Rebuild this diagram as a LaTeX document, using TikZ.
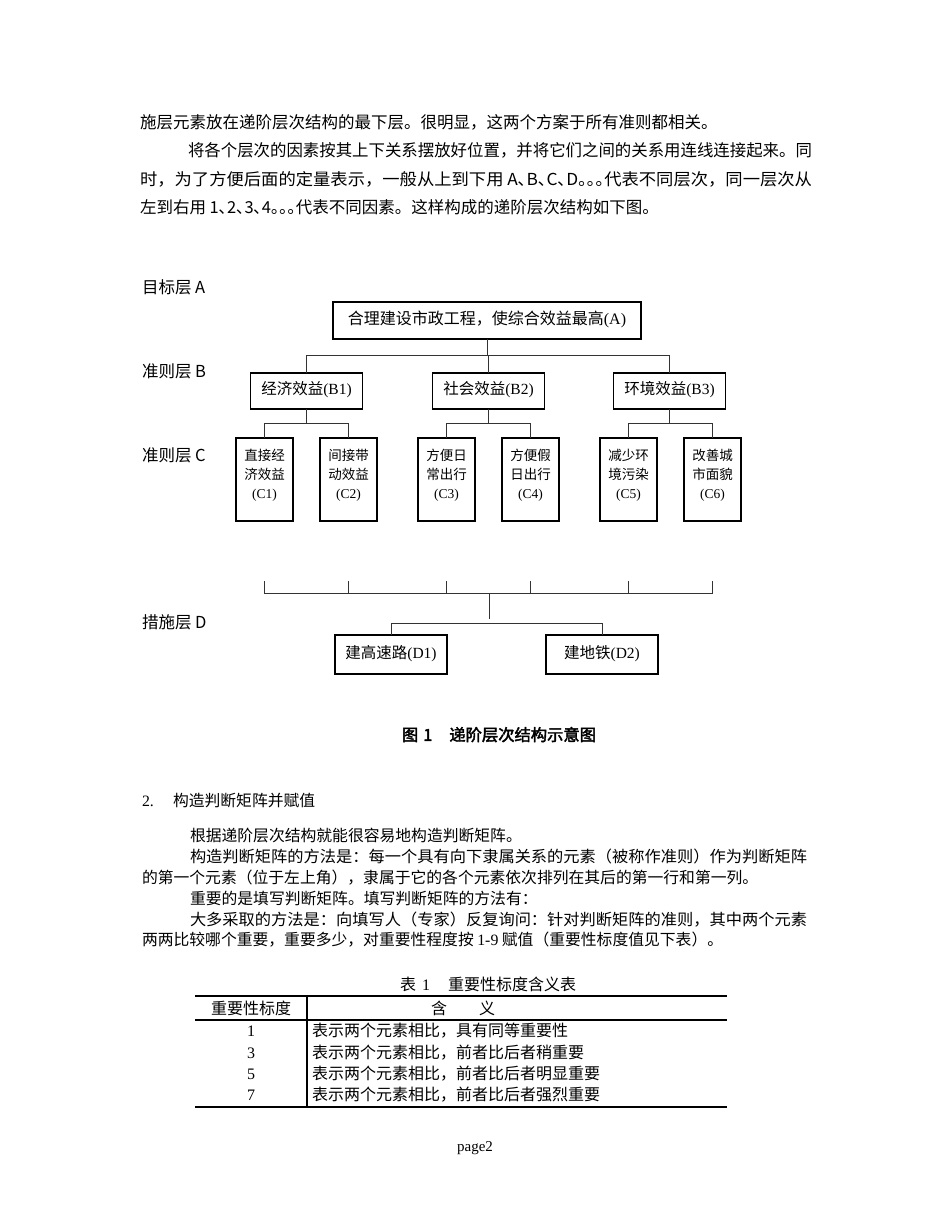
\documentclass[tikz,border=0pt]{standalone}
\usepackage{fontspec}
\usepackage{graphicx}
\setmainfont{Liberation Serif}
\newfontfamily\cjk{Noto Sans CJK SC}[AutoFakeBold=2.5]
\newcommand\zh[1]{{\cjk #1}}
\newcommand\fs[1]{\fontsize{#1}{#1}\selectfont}
\newcommand\jline[2]{\resizebox{#1}{\height}{#2}}
\begin{document}
\begin{tikzpicture}[x=1pt,y=-1pt,
  every node/.style={inner sep=0pt,outer sep=0pt},
  txt/.style={anchor=west,text height=0.88em,text depth=0.12em},
  ctxt/.style={text height=0.88em,text depth=0.12em},
  box/.style={draw=black,line width=1.1pt,fill=white,text height=0.88em,text depth=0.12em},
  cbox/.style={draw=black,line width=1.1pt,fill=white,minimum width=57pt,minimum height=83pt},
  ctext/.style={font=\fontsize{13.5}{19}\selectfont,align=center},
  link/.style={draw=black!80,line width=0.9pt}]

\useasboundingbox[fill=white] (0,0) rectangle (950,1230);

% ---- top paragraph ----
\node[txt,font=\cjk\fs{16.5}] (p1) at (140,125) {施层元素放在递阶层次结构的最下层。很明显，这两个方案于所有准则都相关。};
\node[txt,font=\cjk\fs{16.5}] (p2) at (188,153) {\jline{624pt}{将各个层次的因素按其上下关系摆放好位置，并将它们之间的关系用连线连接起来。同}};
\node[txt,font=\cjk\fs{16.5}] (p3) at (140,182) {\jline{672pt}{时，为了方便后面的定量表示，一般从上到下用 A､B､C､D｡｡｡代表不同层次，同一层次从}};
\node[txt,font=\cjk\fs{16.5}] (p4) at (140,210) {左到右用 1､2､3､4｡｡｡代表不同因素。这样构成的递阶层次结构如下图。};

% ---- level labels ----
\node[txt,font=\cjk\fs{16.5}] (LA) at (142,290) {目标层 A};
\node[txt,font=\cjk\fs{16.5}] (LB) at (142,374) {准则层 B};
\node[txt,font=\cjk\fs{16.5}] (LC) at (142,458) {准则层 C};
\node[txt,font=\cjk\fs{16.5}] (LD) at (142,625) {措施层 D};

% ---- boxes ----
\node[box,minimum width=308pt,minimum height=37pt,font=\fs{16}] (A) at (487,320.5) {\zh{合理建设市政工程，使综合效益最高}(A)};

\node[box,minimum width=112pt,minimum height=36pt,font=\fs{15.5}] (B1) at (306.5,391) {\zh{经济效益}(B1)};
\node[box,minimum width=112pt,minimum height=36pt,font=\fs{15.5}] (B2) at (488.5,391) {\zh{社会效益}(B2)};
\node[box,minimum width=112pt,minimum height=36pt,font=\fs{15.5}] (B3) at (669.5,391) {\zh{环境效益}(B3)};

\node[cbox] (C1) at (264.5,479.5) {};
\node[cbox] (C2) at (348.5,479.5) {};
\node[cbox] (C3) at (446.5,479.5) {};
\node[cbox] (C4) at (530.5,479.5) {};
\node[cbox] (C5) at (628.5,479.5) {};
\node[cbox] (C6) at (712.5,479.5) {};
\node[ctext] (c1t) at (264.5,475) {\zh{直接经}\\\zh{济效益}\\(C1)};
\node[ctext] (c2t) at (348.5,475) {\zh{间接带}\\\zh{动效益}\\(C2)};
\node[ctext] (c3t) at (446.5,475) {\zh{方便日}\\\zh{常出行}\\(C3)};
\node[ctext] (c4t) at (530.5,475) {\zh{方便假}\\\zh{日出行}\\(C4)};
\node[ctext] (c5t) at (628.5,475) {\zh{减少环}\\\zh{境污染}\\(C5)};
\node[ctext] (c6t) at (712.5,475) {\zh{改善城}\\\zh{市面貌}\\(C6)};

\node[box,minimum width=112pt,minimum height=39pt,font=\fs{15.5}] (D1) at (391,654.5) {\zh{建高速路}(D1)};
\node[box,minimum width=112pt,minimum height=39pt,font=\fs{15.5}] (D2) at (602,654.5) {\zh{建地铁}(D2)};

% ---- connectors A -> B ----
\coordinate (a1) at (487,355);
\draw[link] (A.south) -- (a1);
\draw[link] (B1.north) -- (B1.north |- a1) -- (B3.north |- a1) -- (B3.north);
\draw[link] (B2.north) -- (B2.north |- a1);

% ---- connectors B -> C ----
\coordinate (bl) at (0,423);
\draw[link] (B1.south) -- (B1.south |- bl);
\draw[link] (C1.north) -- (C1.north |- bl) -- (C2.north |- bl) -- (C2.north);
\draw[link] (B2.south) -- (B2.south |- bl);
\draw[link] (C3.north) -- (C3.north |- bl) -- (C4.north |- bl) -- (C4.north);
\draw[link] (B3.south) -- (B3.south |- bl);
\draw[link] (C5.north) -- (C5.north |- bl) -- (C6.north |- bl) -- (C6.north);

% ---- lower bracket C -> D ----
\coordinate (tk) at (0,581);
\coordinate (hl) at (489,593);
\coordinate (hb) at (489,619);
\coordinate (dl) at (489,623);
\draw[link] (C1 |- tk) -- (C1 |- hl) -- (C6 |- hl) -- (C6 |- tk);
\draw[link] (C2 |- tk) -- (C2 |- hl);
\draw[link] (C3 |- tk) -- (C3 |- hl);
\draw[link] (C4 |- tk) -- (C4 |- hl);
\draw[link] (C5 |- tk) -- (C5 |- hl);
\draw[link] (hl) -- (hb);
\draw[link] (D1.north) -- (D1.north |- dl) -- (D2.north |- dl) -- (D2.north);

% ---- caption ----
\node[txt,font=\cjk\bfseries\fs{16.3}] (cap) at (402,737) {图\hspace{5pt}1\hspace{17pt}递阶层次结构示意图};

% ---- section text ----
\node[txt,font=\fs{15.8}] (h2n) at (142,803) {2.};
\node[txt,font=\cjk\fs{15.8}] (h2t) at (173,803) {构造判断矩阵并赋值};
\node[txt,font=\cjk\fs{15.8}] (q1) at (190,838) {根据递阶层次结构就能很容易地构造判断矩阵。};
\node[txt,font=\cjk\fs{15.8}] (q2) at (190,859) {\jline{617pt}{构造判断矩阵的方法是：每一个具有向下隶属关系的元素（被称作准则）作为判断矩阵}};
\node[txt,font=\cjk\fs{15.8}] (q3) at (142,880) {的第一个元素（位于左上角），隶属于它的各个元素依次排列在其后的第一行和第一列。};
\node[txt,font=\cjk\fs{15.8}] (q4) at (190,901) {重要的是填写判断矩阵。填写判断矩阵的方法有：};
\node[txt,font=\cjk\fs{15.8}] (q5) at (190,922) {\jline{617pt}{大多采取的方法是：向填写人（专家）反复询问：针对判断矩阵的准则，其中两个元素}};
\node[txt,font=\cjk\fs{15.8}] (q6) at (142,942) {两两比较哪个重要，重要多少，对重要性程度按 {\rmfamily 1-9} 赋值（重要性标度值见下表）。};

% ---- table ----
\node[ctxt,font=\cjk\fs{16}] (ttl) at (488,987) {表\hspace{6pt}{\rmfamily 1}\hspace{18pt}重要性标度含义表};
\draw[line width=2.7pt] (195,996) -- (727,996);
\draw[line width=1.8pt] (195,1020) -- (727,1020);
\draw[line width=2.7pt] (195,1107) -- (727,1107);
\draw[line width=1.5pt] (307,996) -- (307,1107);
\node[ctxt,font=\cjk\fs{16}] (th1) at (251,1011) {重要性标度};
\node[ctxt,font=\cjk\fs{16}] (th2) at (463,1011) {含\hspace{32pt}义};
\node[ctxt,font=\fs{16}] (r1n) at (251,1033) {1};
\node[ctxt,font=\fs{16}] (r2n) at (251,1054.5) {3};
\node[ctxt,font=\fs{16}] (r3n) at (251,1076) {5};
\node[ctxt,font=\fs{16}] (r4n) at (251,1097) {7};
\node[txt,font=\cjk\fs{16}] (r1t) at (312,1033) {表示两个元素相比，具有同等重要性};
\node[txt,font=\cjk\fs{16}] (r2t) at (312,1054.5) {表示两个元素相比，前者比后者稍重要};
\node[txt,font=\cjk\fs{16}] (r3t) at (312,1076) {表示两个元素相比，前者比后者明显重要};
\node[txt,font=\cjk\fs{16}] (r4t) at (312,1097) {表示两个元素相比，前者比后者强烈重要};

% ---- footer ----
\node[ctxt,font=\fs{15}] (pg) at (475,1148) {page2};
\end{tikzpicture}
\end{document}
